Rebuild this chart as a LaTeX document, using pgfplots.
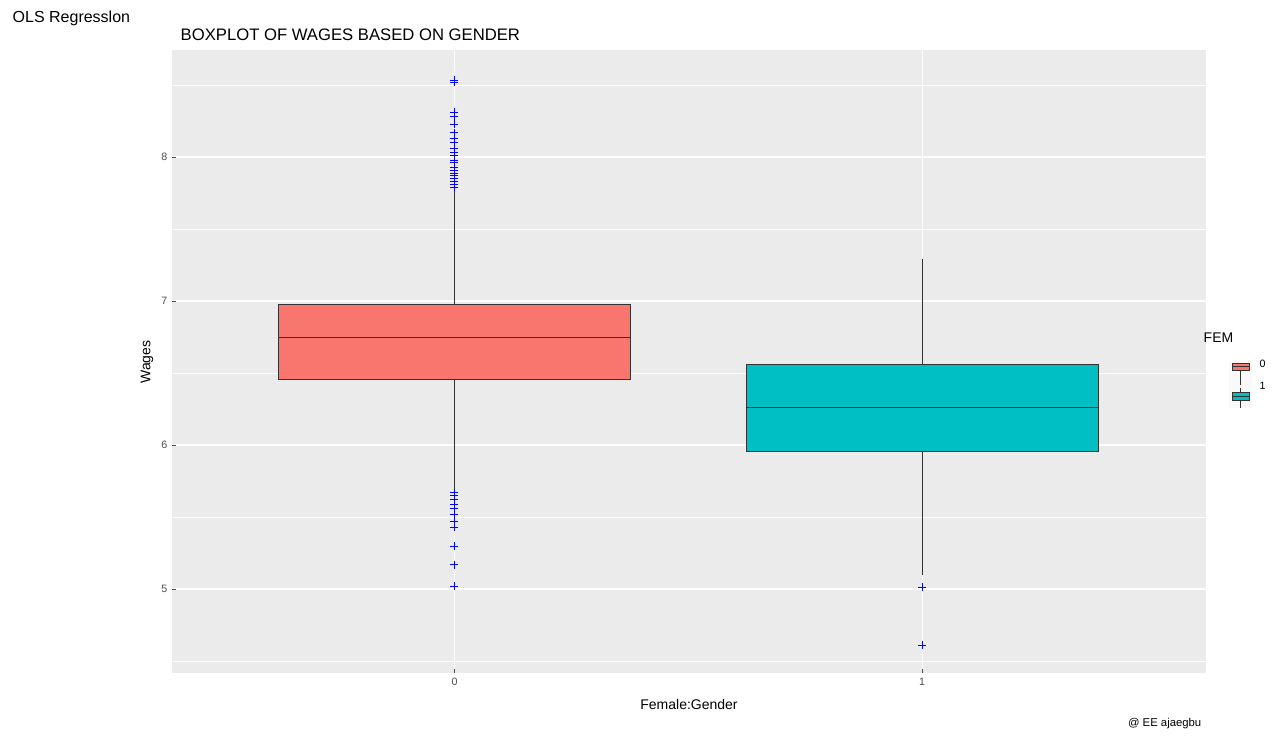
\documentclass[border=0pt]{standalone}
\usepackage{pgfplots}
\pgfplotsset{compat=1.18}
\usepgfplotslibrary{statistics}
\usepackage{fontspec}
\setmainfont{Liberation Sans}
\definecolor{panel}{HTML}{EBEBEB}
\definecolor{red0}{HTML}{F8766D}
\definecolor{cyan1}{HTML}{00BFC4}
\definecolor{tickc}{HTML}{4D4D4D}
\begin{document}
\begin{tikzpicture}
\path[use as bounding box] (0,0) rectangle (960pt,553.5pt);
\begin{axis}[at={(129pt,48.75pt)},anchor=south west,scale only axis,
 width=775.5pt,height=467.25pt,
 xmin=-0.604,xmax=1.607,ymin=4.417,ymax=8.743,
 axis background/.style={fill=panel},axis line style={draw=none},
 xtick={0,1},ytick={5,6,7,8},minor ytick={4.5,5.5,6.5,7.5,8.5},
 grid=both,major grid style={white,line width=0.9pt},minor grid style={white,line width=0.45pt},
 tick style={tickc,line width=0.5pt},major tick length=3pt,minor tick length=0pt,tick pos=left,
 ticklabel style={font=\fontsize{8}{9}\selectfont,text=tickc},
 /pgf/number format/assume math mode=true,
 boxplot/draw direction=y,
 boxplot/box extend=0.754,
 boxplot/whisker extend=0,
]
\addplot[fill=red0,draw=black!80,line width=0.5pt,mark=+,mark size=3pt,mark options={draw=blue,fill=blue},
 boxplot prepared={draw position=0,lower whisker=5.69,lower quartile=6.458,median=6.75,upper quartile=6.979,upper whisker=7.77}]
 table[row sep=\\,y index=0]{8.535\\8.52\\8.31\\8.28\\8.23\\8.17\\8.13\\8.10\\8.06\\8.03\\8.01\\7.98\\7.96\\7.93\\7.91\\7.89\\7.87\\7.85\\7.83\\7.81\\7.79\\5.67\\5.65\\5.62\\5.59\\5.56\\5.52\\5.47\\5.43\\5.30\\5.17\\5.02\\};
\addplot[fill=cyan1,draw=black!80,line width=0.5pt,mark=+,mark size=3pt,mark options={draw=blue,fill=blue},
 boxplot prepared={draw position=1,lower whisker=5.10,lower quartile=5.958,median=6.264,upper quartile=6.563,upper whisker=7.29}]
 table[row sep=\\,y index=0]{5.014\\4.61\\};
\end{axis}
\begin{scope}[x=0.75pt,y=0.75pt]
\node[anchor=west,font=\fontsize{12}{14}\selectfont] at (8,720) {OLS Regresslon};
\node[anchor=west,font=\fontsize{12.5}{14}\selectfont] at (176,703) {BOXPLOT OF WAGES BASED ON GENDER};
\node[rotate=90,font=\fontsize{10.5}{12}\selectfont] at (147,376) {Wages};
\node[font=\fontsize{10.5}{12}\selectfont] at (689,34) {Female:Gender};
\node[anchor=east,font=\fontsize{8.5}{10}\selectfont] at (1206,14) {@ EE ajaegbu};
\node[anchor=west,font=\fontsize{10.5}{12}\selectfont] at (1199,400) {FEM};
\fill[white!95!gray] (1229,352) rectangle (1252,376);
\draw[black!80] (1240,372)--(1240,352);
\filldraw[fill=red0,draw=black!80] (1232,375) rectangle (1249,368);
\draw[black!80] (1232,371.5)--(1249,371.5);
\fill[white!95!gray] (1229,330) rectangle (1252,353);
\draw[black!80] (1240,350)--(1240,330);
\filldraw[fill=cyan1,draw=black!80] (1232,346) rectangle (1249,338);
\draw[black!80] (1232,342)--(1249,342);
\node[anchor=west,font=\fontsize{8}{9}\selectfont] at (1255,374) {0};
\node[anchor=west,font=\fontsize{8}{9}\selectfont] at (1255,352) {1};
\end{scope}
\end{tikzpicture}
\end{document}
